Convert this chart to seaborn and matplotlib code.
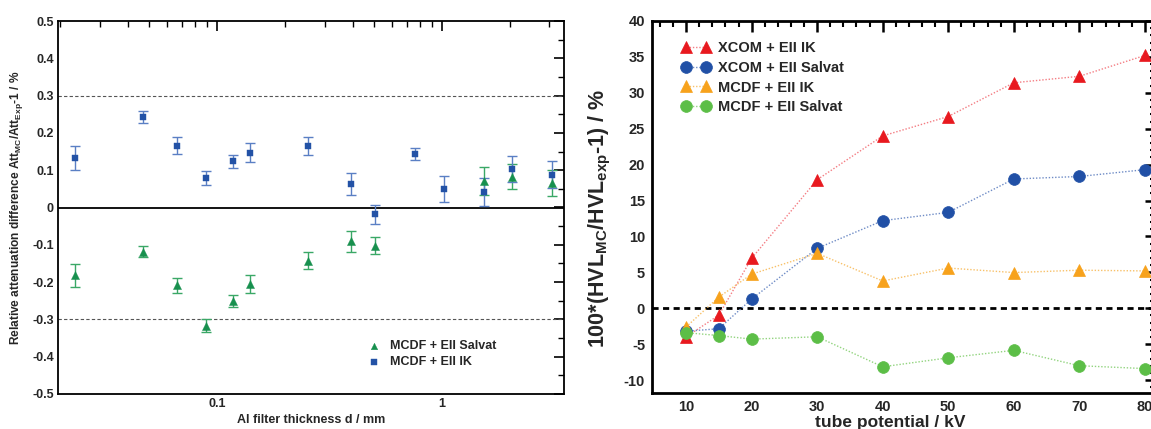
import numpy as np
import pandas as pd
import matplotlib
matplotlib.use("Agg")
import matplotlib.pyplot as plt
import seaborn as sns
from matplotlib.ticker import MultipleLocator, FixedLocator, FixedFormatter, LogLocator, NullFormatter, FuncFormatter

# ---------------- data: left panel ----------------
thickness_mm = [0.0234, 0.047, 0.066, 0.089, 0.118, 0.14, 0.254, 0.394, 0.504, 0.76, 1.02, 1.54, 2.05, 3.08]
ik_diff = [0.132, 0.243, 0.166, 0.078, 0.124, 0.147, 0.165, 0.063, -0.018, 0.143, 0.050, 0.042, 0.103, 0.088]
ik_err = [0.032, 0.017, 0.022, 0.019, 0.017, 0.025, 0.023, 0.029, 0.026, 0.016, 0.034, 0.038, 0.034, 0.037]
salvat_diff = [-0.182, -0.118, -0.209, -0.317, -0.250, -0.205, -0.143, -0.091, -0.102, np.nan, np.nan, 0.071, 0.083, 0.066]
salvat_err = [0.031, 0.016, 0.021, 0.018, 0.016, 0.023, 0.023, 0.028, 0.024, np.nan, np.nan, 0.038, 0.034, 0.035]

# ---------------- data: right panel ----------------
tube_kv = [10, 15, 20, 30, 40, 50, 60, 70, 80]
xcom_ik = [-4.0, -0.95, 6.95, 17.9, 24.0, 26.7, 31.4, 32.3, 35.2]
xcom_salvat = [-3.2, -2.85, 1.28, 8.34, 12.2, 13.35, 18.0, 18.35, 19.3]
mcdf_ik = [-2.6, 1.55, 4.75, 7.65, 3.8, 5.6, 4.97, 5.3, 5.2]
mcdf_salvat = [-3.4, -3.8, -4.3, -3.97, -8.15, -6.9, -5.86, -8.0, -8.4]

sns.set_theme(style="white")
plt.rcParams["font.family"] = ["Liberation Sans", "DejaVu Sans"]
plt.rcParams["font.weight"] = "bold"
plt.rcParams["axes.labelweight"] = "bold"
plt.rcParams["axes.unicode_minus"] = False
plt.rcParams["mathtext.fontset"] = "custom"
plt.rcParams["mathtext.rm"] = "Liberation Sans:bold"
plt.rcParams["mathtext.bf"] = "Liberation Sans:bold"
plt.rcParams["mathtext.it"] = "Liberation Sans:bold"
plt.rcParams["mathtext.default"] = "rm"

W, H = 1151, 429
fig = plt.figure(figsize=(W / 100, H / 100), dpi=100)
ax1 = fig.add_axes([58 / W, 1 - 394 / H, (564 - 58) / W, (394 - 21) / H])
ax2 = fig.add_axes([652 / W, 1 - 393 / H, (1156 - 652) / W, (393 - 21) / H])

# ---------------- left panel ----------------
blue_l = "#2352a6"
blue_e = "#5a7fc4"
green_l = "#17904e"
green_e = "#3aa866"

ax1.axhline(0.3, color="#555555", lw=0.8, ls=(0, (3, 2)), zorder=1)
ax1.axhline(-0.3, color="#555555", lw=0.8, ls=(0, (3, 2)), zorder=1)
ax1.axhline(0.0, color="black", lw=1.3, zorder=1)

ax1.errorbar(thickness_mm, salvat_diff, yerr=salvat_err, fmt="none", ecolor=green_e,
             elinewidth=1.0, capsize=3.5, capthick=1.0, zorder=2)
ax1.errorbar(thickness_mm, ik_diff, yerr=ik_err, fmt="none", ecolor=blue_e,
             elinewidth=1.0, capsize=3.5, capthick=1.0, zorder=3)
sns.scatterplot(x=thickness_mm, y=salvat_diff, ax=ax1, marker="^", s=34, color=green_l,
                edgecolor=green_l, linewidth=0.3, label="MCDF + EII Salvat", zorder=4)
sns.scatterplot(x=thickness_mm, y=ik_diff, ax=ax1, marker="s", s=24, color=blue_l,
                edgecolor=blue_l, linewidth=0.3, label="MCDF + EII IK", zorder=5)

ax1.set_xscale("log")
ax1.set_xlim(0.0196, 3.48)
ax1.set_ylim(-0.5, 0.5)
ax1.xaxis.set_major_locator(FixedLocator([0.1, 1]))
ax1.xaxis.set_major_formatter(FixedFormatter(["0.1", "1"]))
ax1.xaxis.set_minor_locator(LogLocator(base=10, subs=np.arange(2, 10)))
ax1.xaxis.set_minor_formatter(NullFormatter())
ax1.yaxis.set_major_locator(MultipleLocator(0.1))
ax1.yaxis.set_minor_locator(MultipleLocator(0.05))
ax1.yaxis.set_major_formatter(FuncFormatter(lambda v, p: "0" if abs(v) < 1e-9 else f"{v:.1f}"))
ax1.tick_params(which="both", direction="in", top=True, right=True, color="black")
ax1.tick_params(which="major", length=7, width=1.2, labelsize=9, pad=3)
ax1.tick_params(which="minor", length=4, width=1.0)
for sp in ax1.spines.values():
    sp.set_linewidth(1.3)
    sp.set_color("black")
ax1.set_xlabel("Al filter thickness d / mm", fontsize=9, fontweight="bold", labelpad=3)
ax1.set_ylabel(r"Relative attenuation difference Att$_{MC}$/Att$_{Exp}$-1 / %", fontsize=8.6,
               fontweight="bold", labelpad=5)
leg1 = ax1.legend(loc="center left", bbox_to_anchor=(0.612, 0.107), frameon=False, fontsize=9,
                  handlelength=1.0, handletextpad=0.8, labelspacing=0.3, borderpad=0,
                  borderaxespad=0, markerscale=0.8)
for t in leg1.get_texts():
    t.set_fontweight("bold")

# ---------------- right panel ----------------
series = [
    ("XCOM + EII IK", xcom_ik, "^", "#e8191f", "#f47d83"),
    ("XCOM + EII Salvat", xcom_salvat, "o", "#2150a6", "#6f8cc6"),
    ("MCDF + EII IK", mcdf_ik, "^", "#f7a21c", "#f8c16a"),
    ("MCDF + EII Salvat", mcdf_salvat, "o", "#5cbe47", "#92d47f"),
]
ax2.axhline(0.0, color="black", lw=2.0, ls=(0, (2.2, 1.6)), zorder=1)
for name, vals, mk, col, lcol in series:
    df = pd.DataFrame({"kV": tube_kv, "val": vals})
    sns.lineplot(data=df, x="kV", y="val", ax=ax2, color=lcol, lw=1.0,
                 linestyle=(0, (1, 1.3)), marker=mk, markersize=8.5,
                 markerfacecolor=col, markeredgecolor=col, markeredgewidth=0.5,
                 label=name, zorder=3)

ax2.set_xlim(4.8, 81.7)
ax2.set_ylim(-11.8, 40)
ax2.xaxis.set_major_locator(MultipleLocator(10))
ax2.xaxis.set_minor_locator(MultipleLocator(2))
ax2.yaxis.set_major_locator(MultipleLocator(5))
ax2.yaxis.set_minor_locator(MultipleLocator(1))
ax2.tick_params(which="both", direction="in", top=True, right=True, color="black")
ax2.tick_params(which="major", length=8, width=1.8, labelsize=10.5, pad=5)
ax2.tick_params(which="minor", length=4.5, width=1.5)
for sp in ax2.spines.values():
    sp.set_linewidth(2.0)
    sp.set_color("black")
ax2.set_xlabel("tube potential / kV", fontsize=12.5, fontweight="bold")
ax2.xaxis.set_label_coords((890 - 652) / 504, -0.06)
ax2.set_ylabel(r"100*(HVL$_{MC}$/HVL$_{exp}$-1) / %", fontsize=15.5, fontweight="bold")
ax2.yaxis.set_label_coords(-0.078, 0.47)
leg2 = ax2.legend(loc="upper left", bbox_to_anchor=(0.058, 0.945), frameon=False, fontsize=10.5,
                  numpoints=2, handlelength=2.0, handletextpad=0.5, labelspacing=0.38,
                  borderpad=0, borderaxespad=0)
for t in leg2.get_texts():
    t.set_fontweight("bold")

fig.savefig("out.png", dpi=100)
